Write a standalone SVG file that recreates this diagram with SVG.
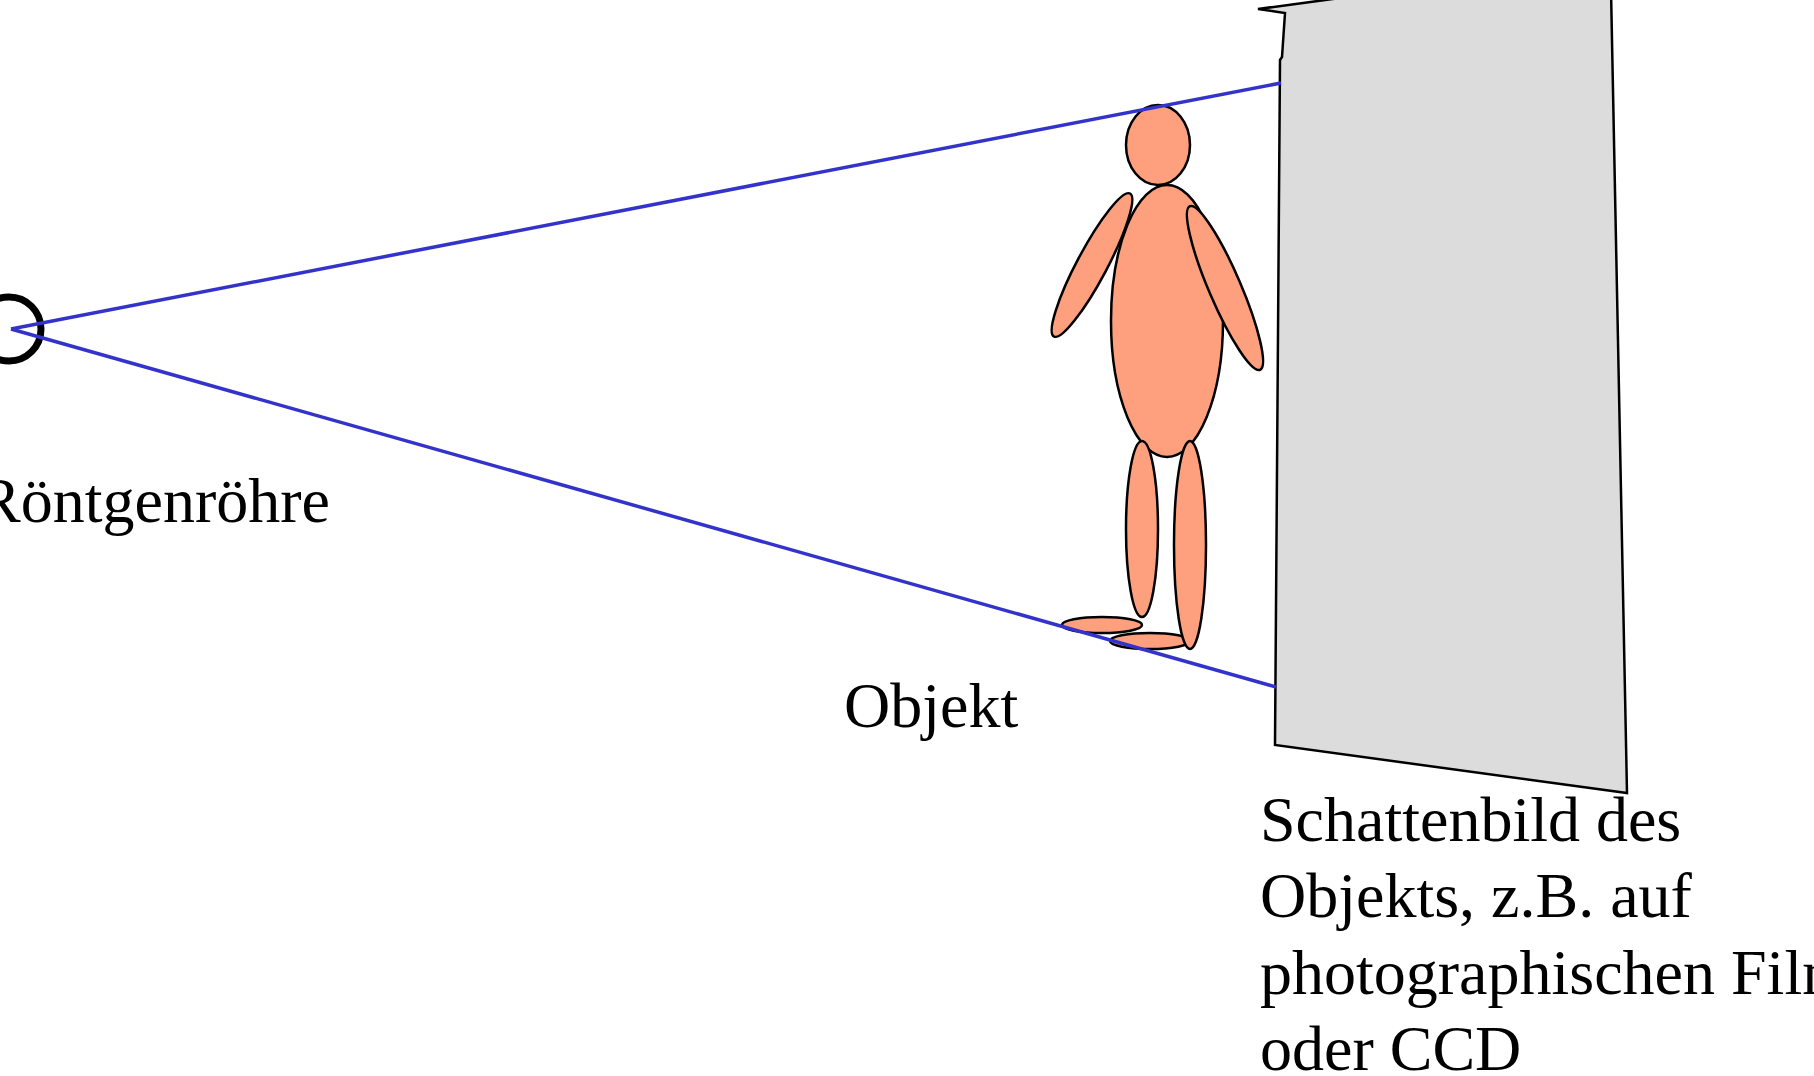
<svg xmlns="http://www.w3.org/2000/svg" width="1814" height="1076" viewBox="0 0 1814 1076">
  <style>
    .label { font-family: "Liberation Serif", "Times New Roman", serif; font-size: 64px; fill: #000; }
    .body { fill: #fea07e; stroke: #000; stroke-width: 2.5; }
    .ray { stroke: #3333cc; stroke-width: 3.5; fill: none; }
  </style>
  <rect width="1814" height="1076" fill="#ffffff"/>

  <!-- detector / film plate -->
  <g id="detector">
    <polygon points="1258,9 1285,13 1282,57 1280,60 1275,745 1627,793 1611,-10 1400,-10" fill="#dcdcdc" stroke="#000" stroke-width="2.5" stroke-linejoin="miter"/>
  </g>

  <!-- x-ray tube (source) -->
  <g id="tube">
    <circle cx="9" cy="329" r="32" fill="none" stroke="#000" stroke-width="7"/>
  </g>

  <!-- object: simplified human figure -->
  <g id="objekt">
    <ellipse class="body" cx="1158" cy="145" rx="32" ry="40"/>
    <ellipse class="body" cx="1167" cy="321" rx="56" ry="136"/>
    <ellipse class="body" cx="1092" cy="265" rx="81" ry="15" transform="rotate(-62 1092 265)"/>
    <ellipse class="body" cx="1225" cy="288" rx="89" ry="16" transform="rotate(66.8 1225 288)"/>
    <ellipse class="body" cx="1102" cy="625" rx="40" ry="8"/>
    <ellipse class="body" cx="1150" cy="641" rx="40" ry="8"/>
    <ellipse class="body" cx="1142" cy="529" rx="16" ry="88"/>
    <ellipse class="body" cx="1190" cy="545" rx="16" ry="104"/>
  </g>

  <!-- beam edges from source to plate -->
  <g id="connectors">
    <line class="ray" x1="11" y1="329" x2="1281" y2="83"/>
    <line class="ray" x1="11" y1="329" x2="1276" y2="687"/>
  </g>

  <!-- labels -->
  <g id="labels">
    <text class="label" x="-22" y="522">Röntgenröhre</text>
    <text class="label" x="844" y="727">Objekt</text>
    <text class="label" x="1260" y="841">Schattenbild des</text>
    <text class="label" x="1260" y="917">Objekts, z.B. auf</text>
    <text class="label" x="1260" y="994">photographischen Film</text>
    <text class="label" x="1260" y="1070">oder CCD</text>
  </g>
</svg>
